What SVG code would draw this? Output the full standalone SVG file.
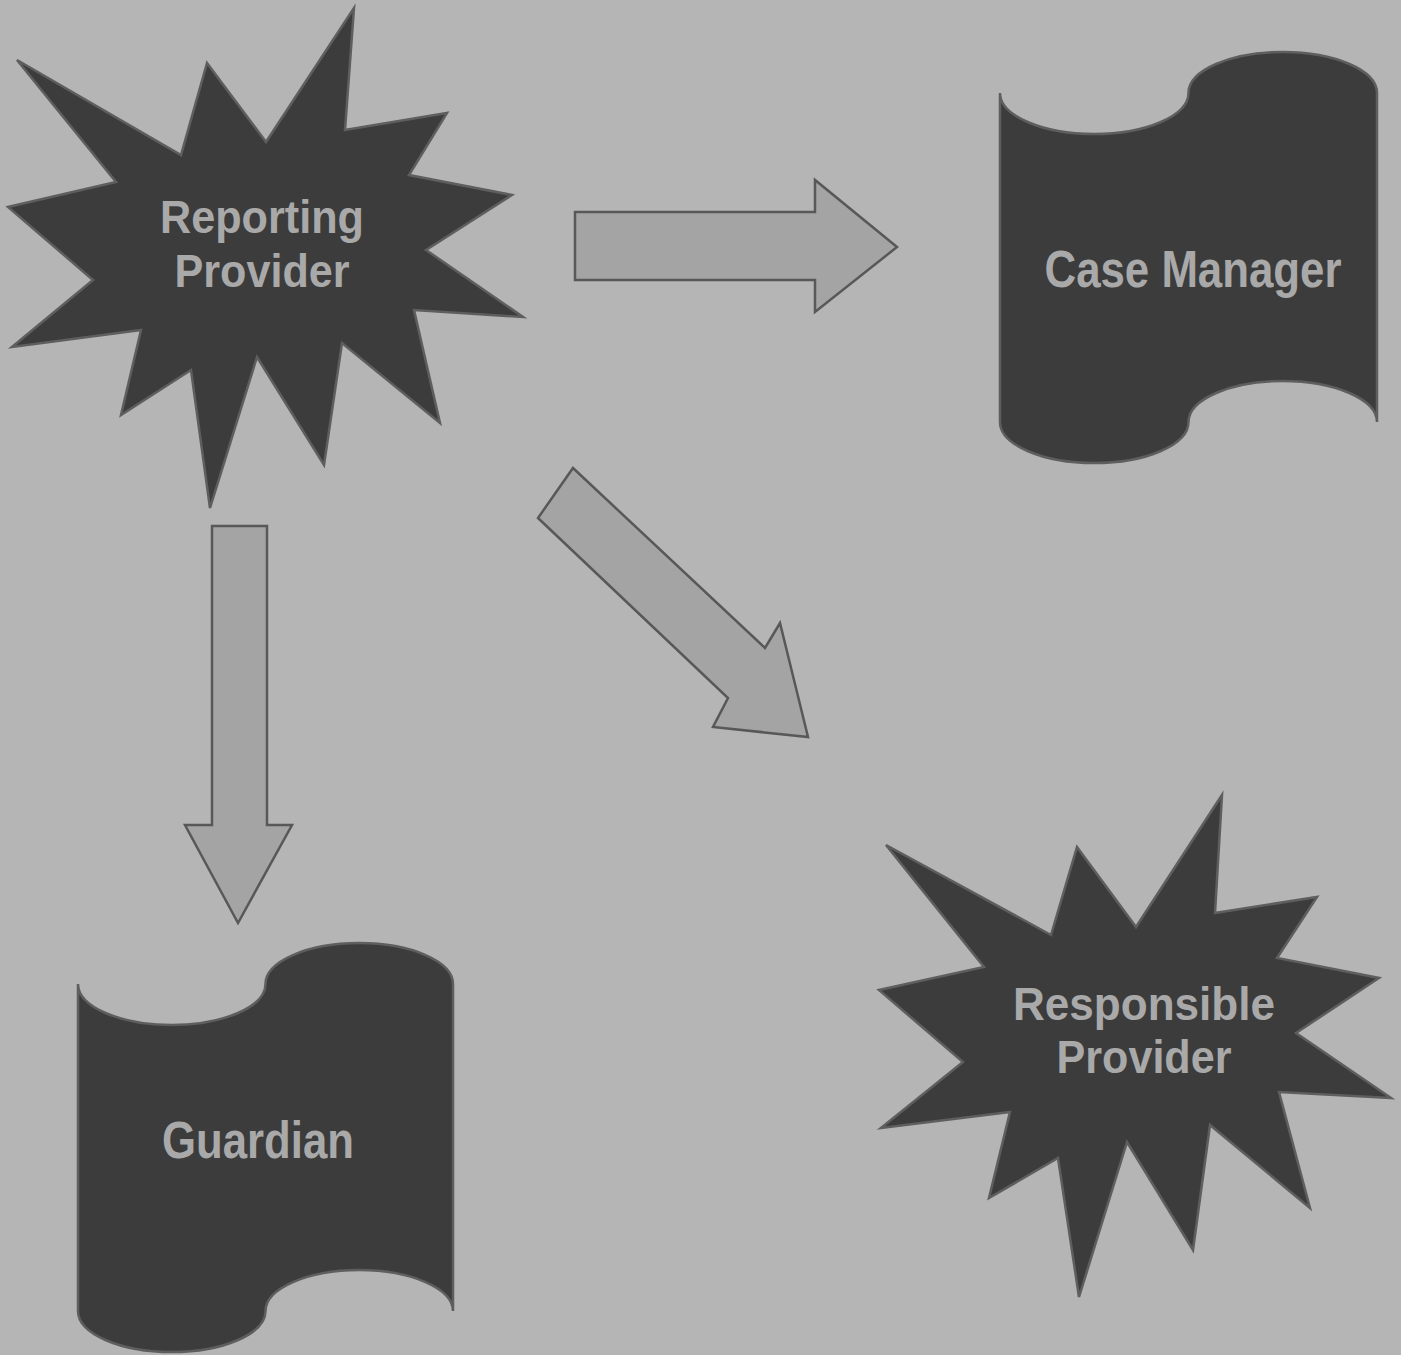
<svg xmlns="http://www.w3.org/2000/svg" width="1401" height="1355" viewBox="0 0 1401 1355">
  <style>
    .shape { fill: #3c3c3c; stroke: #5e5e5e; stroke-width: 2.5; stroke-linejoin: miter; }
    .arrow { fill: #a4a4a4; stroke: #585858; stroke-width: 2.5; stroke-linejoin: miter; }
    .label { font-family: "Liberation Sans", Arial, sans-serif; font-weight: bold; fill: #a9a9a9; font-size: 52px; }
  </style>
  <rect x="0" y="0" width="1401" height="1355" fill="#b5b5b5"/>

  <g id="connectors">
    <polygon id="arrow-right" class="arrow" points="575,212 815,212 815,180 897,247 815,312 815,280 575,280"/>
    <polygon id="arrow-down" class="arrow" points="212,526 267,526 267,825 292,825 238,923 185,825 212,825"/>
    <polygon id="arrow-diag" class="arrow" points="573,468 765,648 780,623 808,737 713,727 728,698 538,518"/>
  </g>

  <g id="node-reporting-provider">
    <polygon class="shape" points="354,8 345,130 447,113 409,175 512,195 426,250 523,317 414,310 440,423 342,343 324,465 257,357 210,508 191,370 121,415 141,330 12,347 93,280 8,207 116,182 17,60 181,155 207,63 266,142"/>
    <text class="label" x="262" y="233" text-anchor="middle" textLength="204" lengthAdjust="spacingAndGlyphs" style="font-size:47px">Reporting</text>
    <text class="label" x="262" y="287" text-anchor="middle" textLength="175" lengthAdjust="spacingAndGlyphs" style="font-size:47px">Provider</text>
  </g>

  <g id="node-case-manager">
    <path class="shape" d="M1000,93 A94.25,41 0 0 0 1188.5,93 A94.25,41 0 0 1 1377,93 L1377,422 A94.25,41 0 0 0 1188.5,422 A94.25,41 0 0 1 1000,422 Z"/>
    <text class="label" x="1193" y="287" text-anchor="middle" textLength="297" lengthAdjust="spacingAndGlyphs">Case Manager</text>
  </g>

  <g id="node-guardian">
    <path class="shape" d="M78,984 A93.75,41 0 0 0 265.5,984 A93.75,41 0 0 1 453,984 L453,1311 A93.75,41 0 0 0 265.5,1311 A93.75,41 0 0 1 78,1311 Z"/>
    <text class="label" x="258" y="1158" text-anchor="middle" textLength="192" lengthAdjust="spacingAndGlyphs">Guardian</text>
  </g>

  <g id="node-responsible-provider">
    <polygon class="shape" points="1222,795 1215,913 1317,897 1277,958 1379,978 1296,1033 1391,1098 1279,1092 1310,1208 1210,1125 1193,1250 1127,1142 1079,1297 1058,1158 989,1198 1010,1112 881,1128 963,1062 879,990 984,967 886,845 1051,935 1077,847 1136,927"/>
    <text class="label" x="1144" y="1020" text-anchor="middle" textLength="262" lengthAdjust="spacingAndGlyphs" style="font-size:46px">Responsible</text>
    <text class="label" x="1144" y="1073" text-anchor="middle" textLength="175" lengthAdjust="spacingAndGlyphs" style="font-size:46px">Provider</text>
  </g>
</svg>
